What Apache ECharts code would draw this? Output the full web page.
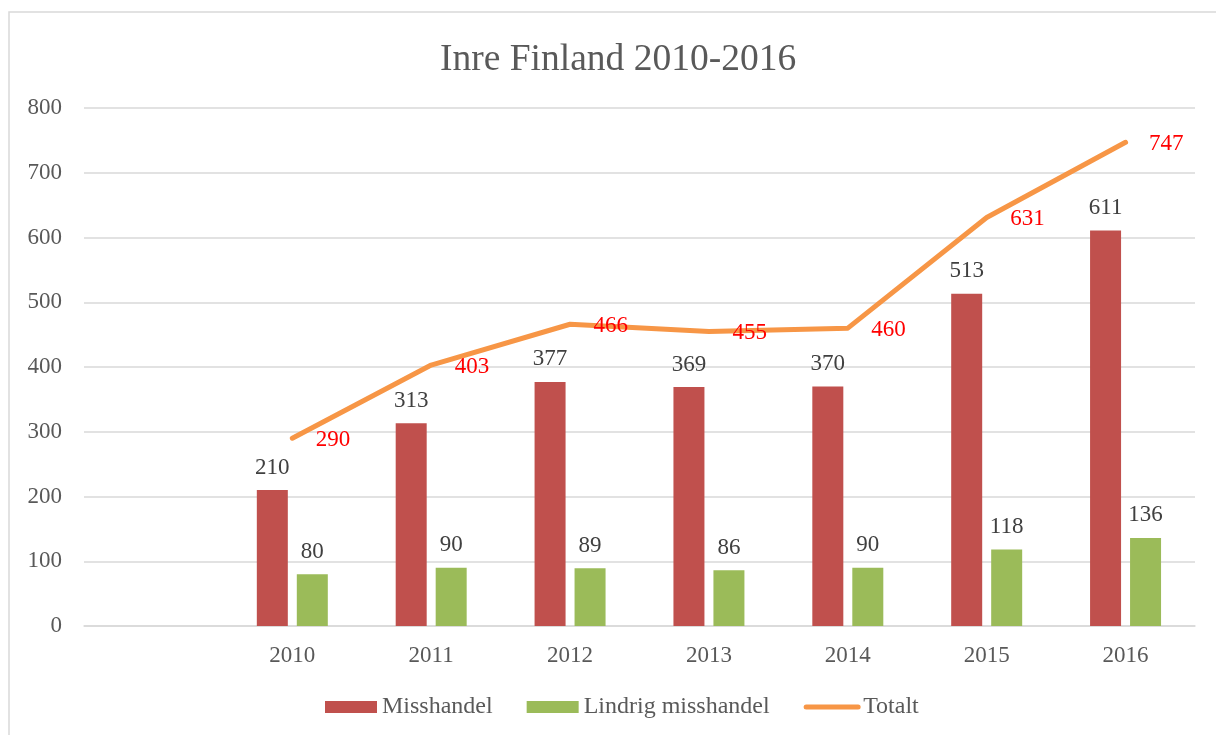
<!DOCTYPE html>
<html>
<head>
<meta charset="utf-8">
<script src="https://cdn.jsdelivr.net/npm/echarts@6/dist/echarts.min.js"></script>
<style>
html,body{margin:0;padding:0;background:#fff;}
#chart{width:1216px;height:735px;}
</style>
</head>
<body>
<div id="chart"></div>
<script>
const categories = ['', '2010', '2011', '2012', '2013', '2014', '2015', '2016'];
const misshandel = [null, 210, 313, 377, 369, 370, 513, 611];
const lindrig = [null, 80, 90, 89, 86, 90, 118, 136];
const totalt = [null, 290, 403, 466, 455, 460, 631, 747];
const yTicks = { min: 0, max: 800, interval: 100 };

const FONT = '"Liberation Serif", "Times New Roman", serif';
const chart = echarts.init(document.getElementById('chart'));
chart.setOption({
  animation: false,
  backgroundColor: '#ffffff',
  textStyle: { fontFamily: FONT },
  graphic: [{
    type: 'rect', z: -10, silent: true,
    shape: { x: 9, y: 12, width: 1400, height: 900 },
    style: { fill: 'none', stroke: '#d9d9d9', lineWidth: 1.5 }
  }],
  title: {
    text: 'Inre Finland 2010-2016',
    left: 435, top: 36,
    textStyle: { fontFamily: FONT, fontSize: 37.5, fontWeight: 'normal', color: '#595959' }
  },
  legend: {
    bottom: 11, left: 320,
    itemWidth: 52, itemHeight: 12, itemGap: 34,
    textStyle: { fontFamily: FONT, fontSize: 24, color: '#595959' },
    data: [
      { name: 'Misshandel', icon: 'rect' },
      { name: 'Lindrig misshandel', icon: 'rect' },
      { name: 'Totalt', itemStyle: { opacity: 0 }, lineStyle: { width: 5, cap: 'round', color: '#f79646' } }
    ]
  },
  grid: { left: 84, right: 21, top: 108, bottom: 109, containLabel: false },
  xAxis: {
    type: 'category', data: categories,
    axisTick: { show: false },
    axisLine: { lineStyle: { color: '#d9d9d9', width: 1.5 } },
    axisLabel: { fontFamily: FONT, fontSize: 23, color: '#595959', margin: 18 }
  },
  yAxis: {
    type: 'value', min: yTicks.min, max: yTicks.max, interval: yTicks.interval,
    axisLine: { show: false }, axisTick: { show: false },
    splitLine: { lineStyle: { color: '#d9d9d9', width: 1.5 } },
    axisLabel: { fontFamily: FONT, fontSize: 23, color: '#595959', margin: 22 }
  },
  series: [
    {
      name: 'Misshandel', type: 'bar', data: misshandel,
      barWidth: 31, barGap: '29%',
      itemStyle: { color: '#c0504d' },
      label: { show: true, position: 'top', distance: 11, fontFamily: FONT, fontSize: 23, color: '#404040' }
    },
    {
      name: 'Lindrig misshandel', type: 'bar', data: lindrig,
      barWidth: 31,
      itemStyle: { color: '#9bbb59' },
      label: { show: true, position: 'top', distance: 11, fontFamily: FONT, fontSize: 23, color: '#404040' }
    },
    {
      name: 'Totalt', type: 'line', data: totalt,
      symbol: 'circle', symbolSize: 1, showSymbol: true,
      lineStyle: { color: '#f79646', width: 5, cap: 'round', join: 'round' },
      itemStyle: { color: '#f79646' },
      label: { show: true, position: 'right', distance: 23, offset: [0, 2], fontFamily: FONT, fontSize: 23, color: '#ff0000' },
      z: 5
    }
  ]
});
</script>
</body>
</html>
